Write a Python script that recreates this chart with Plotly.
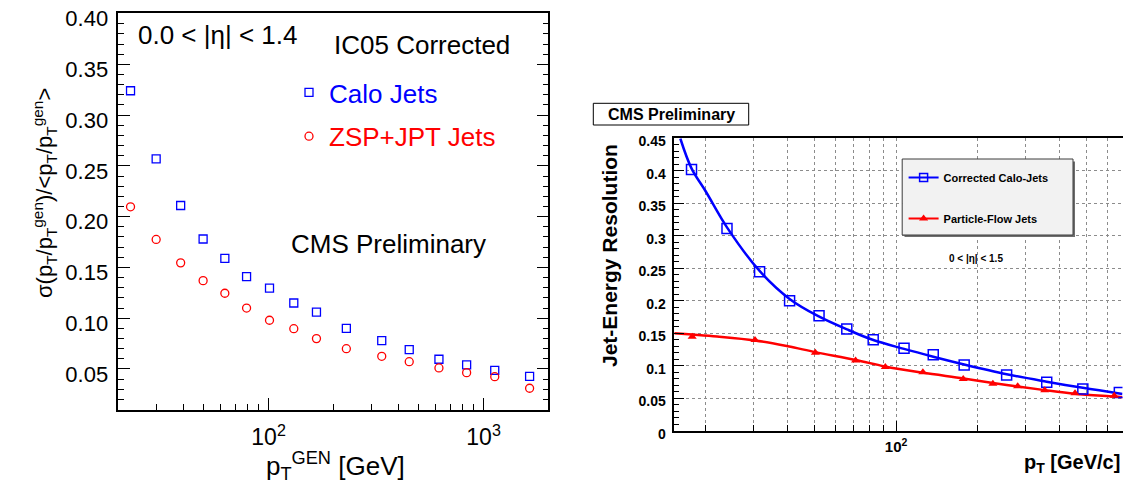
import plotly.graph_objects as go

# Screenshot frame is 1131x493; the page body adds an 8px offset, so the
# figure itself is drawn 16px smaller and all layout positions are given in
# screenshot pixels and converted below.
W, H = 1131, 493
OFF = 8
FW, FH = W - 2 * OFF, H - 2 * OFF

# ---------------- Left panel data ----------------
left_pt = [22.8, 30, 39, 49.6, 62.6, 79, 101, 131, 167, 230, 336, 451, 620, 834, 1127, 1637]
calo_left = [0.324, 0.257, 0.211, 0.178, 0.159, 0.141, 0.1296, 0.115, 0.106, 0.090, 0.078, 0.069, 0.0596, 0.054, 0.0487, 0.0428]
zsp_left = [0.2097, 0.1776, 0.1545, 0.137, 0.1246, 0.110, 0.098, 0.0897, 0.0799, 0.070, 0.0625, 0.0572, 0.051, 0.0464, 0.0424, 0.031]

left_ytickvals = [0.05, 0.10, 0.15, 0.20, 0.25, 0.30, 0.35, 0.40]
left_yticktext = ["0.05", "0.10", "0.15", "0.20", "0.25", "0.30", "0.35", "0.40"]
left_xtickvals = [100, 1000]
left_xticktext = ["10<sup>2</sup>", "10<sup>3</sup>"]
left_xminor = [30, 40, 50, 60, 70, 80, 90, 200, 300, 400, 500, 600, 700, 800, 900, 2000]

# ---------------- Right panel data ----------------
calo_pt_right = [17.7, 23.9, 31.5, 40.6, 52.1, 65.9, 82.4, 107, 137, 178, 255, 358, 486, 662]
calo_res_right = [0.4023, 0.3115, 0.2447, 0.2001, 0.177, 0.1565, 0.140, 0.1268, 0.117, 0.101, 0.0857, 0.0745, 0.0642, 0.059]
calo_fit_pt = [16.1, 17.7, 20, 24, 31.5, 40.6, 52, 66, 82, 107, 137, 178, 255, 358, 486, 680]
calo_fit_res = [0.45, 0.404, 0.368, 0.312, 0.246, 0.203, 0.176, 0.156, 0.140, 0.126, 0.114, 0.102, 0.087, 0.0755, 0.066, 0.0565]

pf_pt_right = [17.8, 30.3, 50.5, 71.0, 91.3, 125.5, 176.6, 227, 280, 352, 455, 634]
pf_res_right = [0.1447, 0.1396, 0.120, 0.1083, 0.098, 0.0899, 0.0796, 0.0723, 0.0683, 0.0622, 0.0575, 0.0539]
pf_fit_pt = [15.3, 17.8, 22, 30.3, 40, 50.5, 71, 91, 125, 177, 227, 280, 352, 455, 634, 680]
pf_fit_res = [0.150, 0.148, 0.145, 0.139, 0.130, 0.121, 0.109, 0.099, 0.0895, 0.0805, 0.0735, 0.068, 0.0625, 0.057, 0.0525, 0.0514]

right_ytickvals = [0, 0.05, 0.1, 0.15, 0.2, 0.25, 0.3, 0.35, 0.4, 0.45]
right_yticktext = ["0", "0.05", "0.1", "0.15", "0.2", "0.25", "0.3", "0.35", "0.4", "0.45"]
right_xtickvals = [100]
right_xticktext = ["10<sup>2</sup>"]
right_xminor = [20, 30, 40, 50, 60, 70, 80, 90, 200, 300, 400, 500, 600]

FONT = "Liberation Sans, Arial, Helvetica, sans-serif"
BLUE = "rgb(0,0,255)"
RED = "rgb(255,0,0)"


def px(x):
    return min(max((x - OFF) / FW, 0.0), 1.0)


def py(y):
    return min(max(1 - (y - OFF) / FH, 0.0), 1.0)


fig = go.Figure()

# Left panel traces
fig.add_trace(go.Scatter(
    x=left_pt, y=calo_left, mode="markers", xaxis="x", yaxis="y",
    name="<span style='color:rgb(0,0,255)'>Calo Jets</span>", legend="legend", legendgroup="a",
    marker=dict(symbol="square-open", size=8, color=BLUE, line=dict(width=1.3, color=BLUE))))
fig.add_trace(go.Scatter(
    x=left_pt, y=zsp_left, mode="markers", xaxis="x", yaxis="y",
    name="<span style='color:rgb(255,0,0)'>ZSP+JPT Jets</span>", legend="legend", legendgroup="b",
    marker=dict(symbol="circle-open", size=8, color=RED, line=dict(width=1.3, color=RED))))

# Right panel traces
fig.add_trace(go.Scatter(
    x=calo_fit_pt, y=calo_fit_res, mode="lines", xaxis="x2", yaxis="y2", showlegend=False,
    line=dict(color=BLUE, width=2.5, shape="spline")))
fig.add_trace(go.Scatter(
    x=pf_fit_pt, y=pf_fit_res, mode="lines", xaxis="x2", yaxis="y2", showlegend=False,
    line=dict(color=RED, width=2.5, shape="spline")))
fig.add_trace(go.Scatter(
    x=calo_pt_right, y=calo_res_right, mode="markers", xaxis="x2", yaxis="y2", showlegend=False,
    marker=dict(symbol="square-open", size=10, color=BLUE, line=dict(width=1.5, color=BLUE))))
fig.add_trace(go.Scatter(
    x=pf_pt_right, y=pf_res_right, mode="markers", xaxis="x2", yaxis="y2", showlegend=False,
    marker=dict(symbol="triangle-up", size=8, color=RED, line=dict(width=0))))
# legend proxies (no data)
fig.add_trace(go.Scatter(
    x=[None], y=[None], mode="lines+markers", xaxis="x2", yaxis="y2",
    name="Corrected Calo-Jets", legend="legend2", legendgroup="c",
    line=dict(color=BLUE, width=2),
    marker=dict(symbol="square-open", size=8, color=BLUE, line=dict(width=1.5, color=BLUE))))
fig.add_trace(go.Scatter(
    x=[None], y=[None], mode="lines+markers", xaxis="x2", yaxis="y2",
    name="Particle-Flow Jets", legend="legend2", legendgroup="d",
    line=dict(color=RED, width=2),
    marker=dict(symbol="triangle-up", size=8, color=RED)))

axis_common = dict(showline=True, linecolor="black", linewidth=1.5, ticks="inside",
                   tickcolor="black", zeroline=False, automargin=False,
                   ticklabeloverflow="allow")

fig.update_layout(
    width=FW, height=FH,
    margin=dict(l=0, r=0, t=0, b=0, autoexpand=False),
    paper_bgcolor="white", plot_bgcolor="white",
    font=dict(family=FONT, color="black"),
    xaxis=dict(
        **axis_common, type="log", range=[1.30103, 3.30103],
        domain=[px(118.3), px(548.3)], anchor="y", mirror=True, showgrid=False,
        tickmode="array", tickvals=left_xtickvals, ticktext=left_xticktext,
        ticklen=12, tickwidth=1.2, tickfont=dict(size=23, family=FONT),
        ticklabelstandoff=6,
        minor=dict(tickmode="array", tickvals=left_xminor, ticks="inside", ticklen=6,
                   tickcolor="black", tickwidth=1, showgrid=False)),
    yaxis=dict(
        **axis_common, range=[0.0096, 0.4003], domain=[py(410), py(13.3)], anchor="x",
        mirror="ticks", showgrid=False,
        tickmode="array", tickvals=left_ytickvals, ticktext=left_yticktext,
        ticklen=12, tickwidth=1.2, tickfont=dict(size=22, family=FONT),
        ticklabelstandoff=4, ticklabelshift=5,
        minor=dict(dtick=0.01, tick0=0, ticks="inside", ticklen=6, tickcolor="black",
                   tickwidth=1, showgrid=False)),
    xaxis2=dict(
        **axis_common, type="log", range=[1.1847, 2.8325],
        domain=[px(674.3), px(1122.5)], anchor="y2", mirror=True,
        showgrid=True, gridcolor="rgb(140,140,140)", griddash="dot", gridwidth=1,
        tickmode="array", tickvals=right_xtickvals, ticktext=right_xticktext,
        ticklen=10, tickwidth=1.2, tickfont=dict(size=15, family=FONT, weight="bold"),
        ticklabelstandoff=2,
        minor=dict(tickmode="array", tickvals=right_xminor, ticks="inside", ticklen=6,
                   tickcolor="black", tickwidth=1, showgrid=True,
                   gridcolor="rgb(140,140,140)", griddash="dot", gridwidth=1)),
    yaxis2=dict(
        **axis_common, range=[0, 0.4503], domain=[py(430.7), py(138.3)], anchor="x2",
        mirror=True, showgrid=True, gridcolor="rgb(140,140,140)", griddash="dot", gridwidth=1,
        tickmode="array", tickvals=right_ytickvals, ticktext=right_yticktext,
        ticklen=10, tickwidth=1.2, tickfont=dict(size=14, family=FONT, weight="bold"),
        ticklabelstandoff=4, ticklabelshift=3,
        minor=dict(dtick=0.01, tick0=0, ticks="inside", ticklen=5, tickcolor="black",
                   tickwidth=1, showgrid=False)),
    legend=dict(
        x=px(289), y=py(69), xanchor="left", yanchor="top",
        bgcolor="rgba(0,0,0,0)", borderwidth=0, tracegroupgap=7,
        font=dict(size=26, family=FONT), itemwidth=30),
    legend2=dict(
        x=px(903.6), y=py(163), xanchor="left", yanchor="top",
        bgcolor="rgba(0,0,0,0)", borderwidth=0, tracegroupgap=22,
        font=dict(size=11, family=FONT, weight="bold"), itemwidth=30),
)

shapes = [
    # CMS Preliminary box (right)
    dict(type="rect", xref="paper", yref="paper", x0=px(593.3), x1=px(748.7),
         y0=py(125), y1=py(103.3), line=dict(color="black", width=1), fillcolor="white"),
    # legend shadow + box (right)
    dict(type="rect", xref="paper", yref="paper", x0=px(904.5), x1=px(1075),
         y0=py(237), y1=py(161.5), line=dict(width=0), fillcolor="rgb(110,110,110)"),
    dict(type="rect", xref="paper", yref="paper", x0=px(902.2), x1=px(1073),
         y0=py(235), y1=py(159), line=dict(color="rgb(60,60,60)", width=1),
         fillcolor="rgb(242,242,242)"),
]
fig.update_layout(shapes=shapes)

ann = [
    dict(text="0.0 &lt; |η| &lt; 1.4", x=px(136), y=py(35), xanchor="left", yanchor="middle",
         font=dict(size=26)),
    dict(text="IC05 Corrected", x=px(332), y=py(45), xanchor="left", yanchor="middle",
         font=dict(size=26)),
    dict(text="CMS Preliminary", x=px(289), y=py(244), xanchor="left", yanchor="middle",
         font=dict(size=26)),
    dict(text="σ(p<sub>T</sub>/p<sub>T</sub><sup>gen</sup>)/&lt;p<sub>T</sub>/p<sub>T</sub><sup>gen</sup>&gt;",
         x=px(44), y=py(193), xanchor="center", yanchor="middle", textangle=-90,
         font=dict(size=22)),
    dict(text="p<sub>T</sub><sup>GEN</sup> [GeV]", x=px(335), y=py(466), xanchor="center",
         yanchor="middle", font=dict(size=26)),
    dict(text="CMS Preliminary", x=px(671), y=py(114.5), xanchor="center", yanchor="middle",
         font=dict(size=16, weight="bold")),
    dict(text="0 &lt; |η| &lt; 1.5", x=px(947), y=py(258), xanchor="left", yanchor="middle",
         font=dict(size=10, weight="bold")),
    dict(text="Jet-Energy Resolution", x=px(610), y=py(256), xanchor="center", yanchor="middle",
         textangle=-90, font=dict(size=21, weight="bold")),
    dict(text="p<sub>T</sub> [GeV/c]", x=px(1122), y=py(463), xanchor="right", yanchor="middle",
         font=dict(size=20, weight="bold")),
]
for a in ann:
    a.update(xref="paper", yref="paper", showarrow=False)
    a["font"].setdefault("family", FONT)
    a["font"].setdefault("color", "black")
fig.update_layout(annotations=ann)

fig.write_html("out.html")
